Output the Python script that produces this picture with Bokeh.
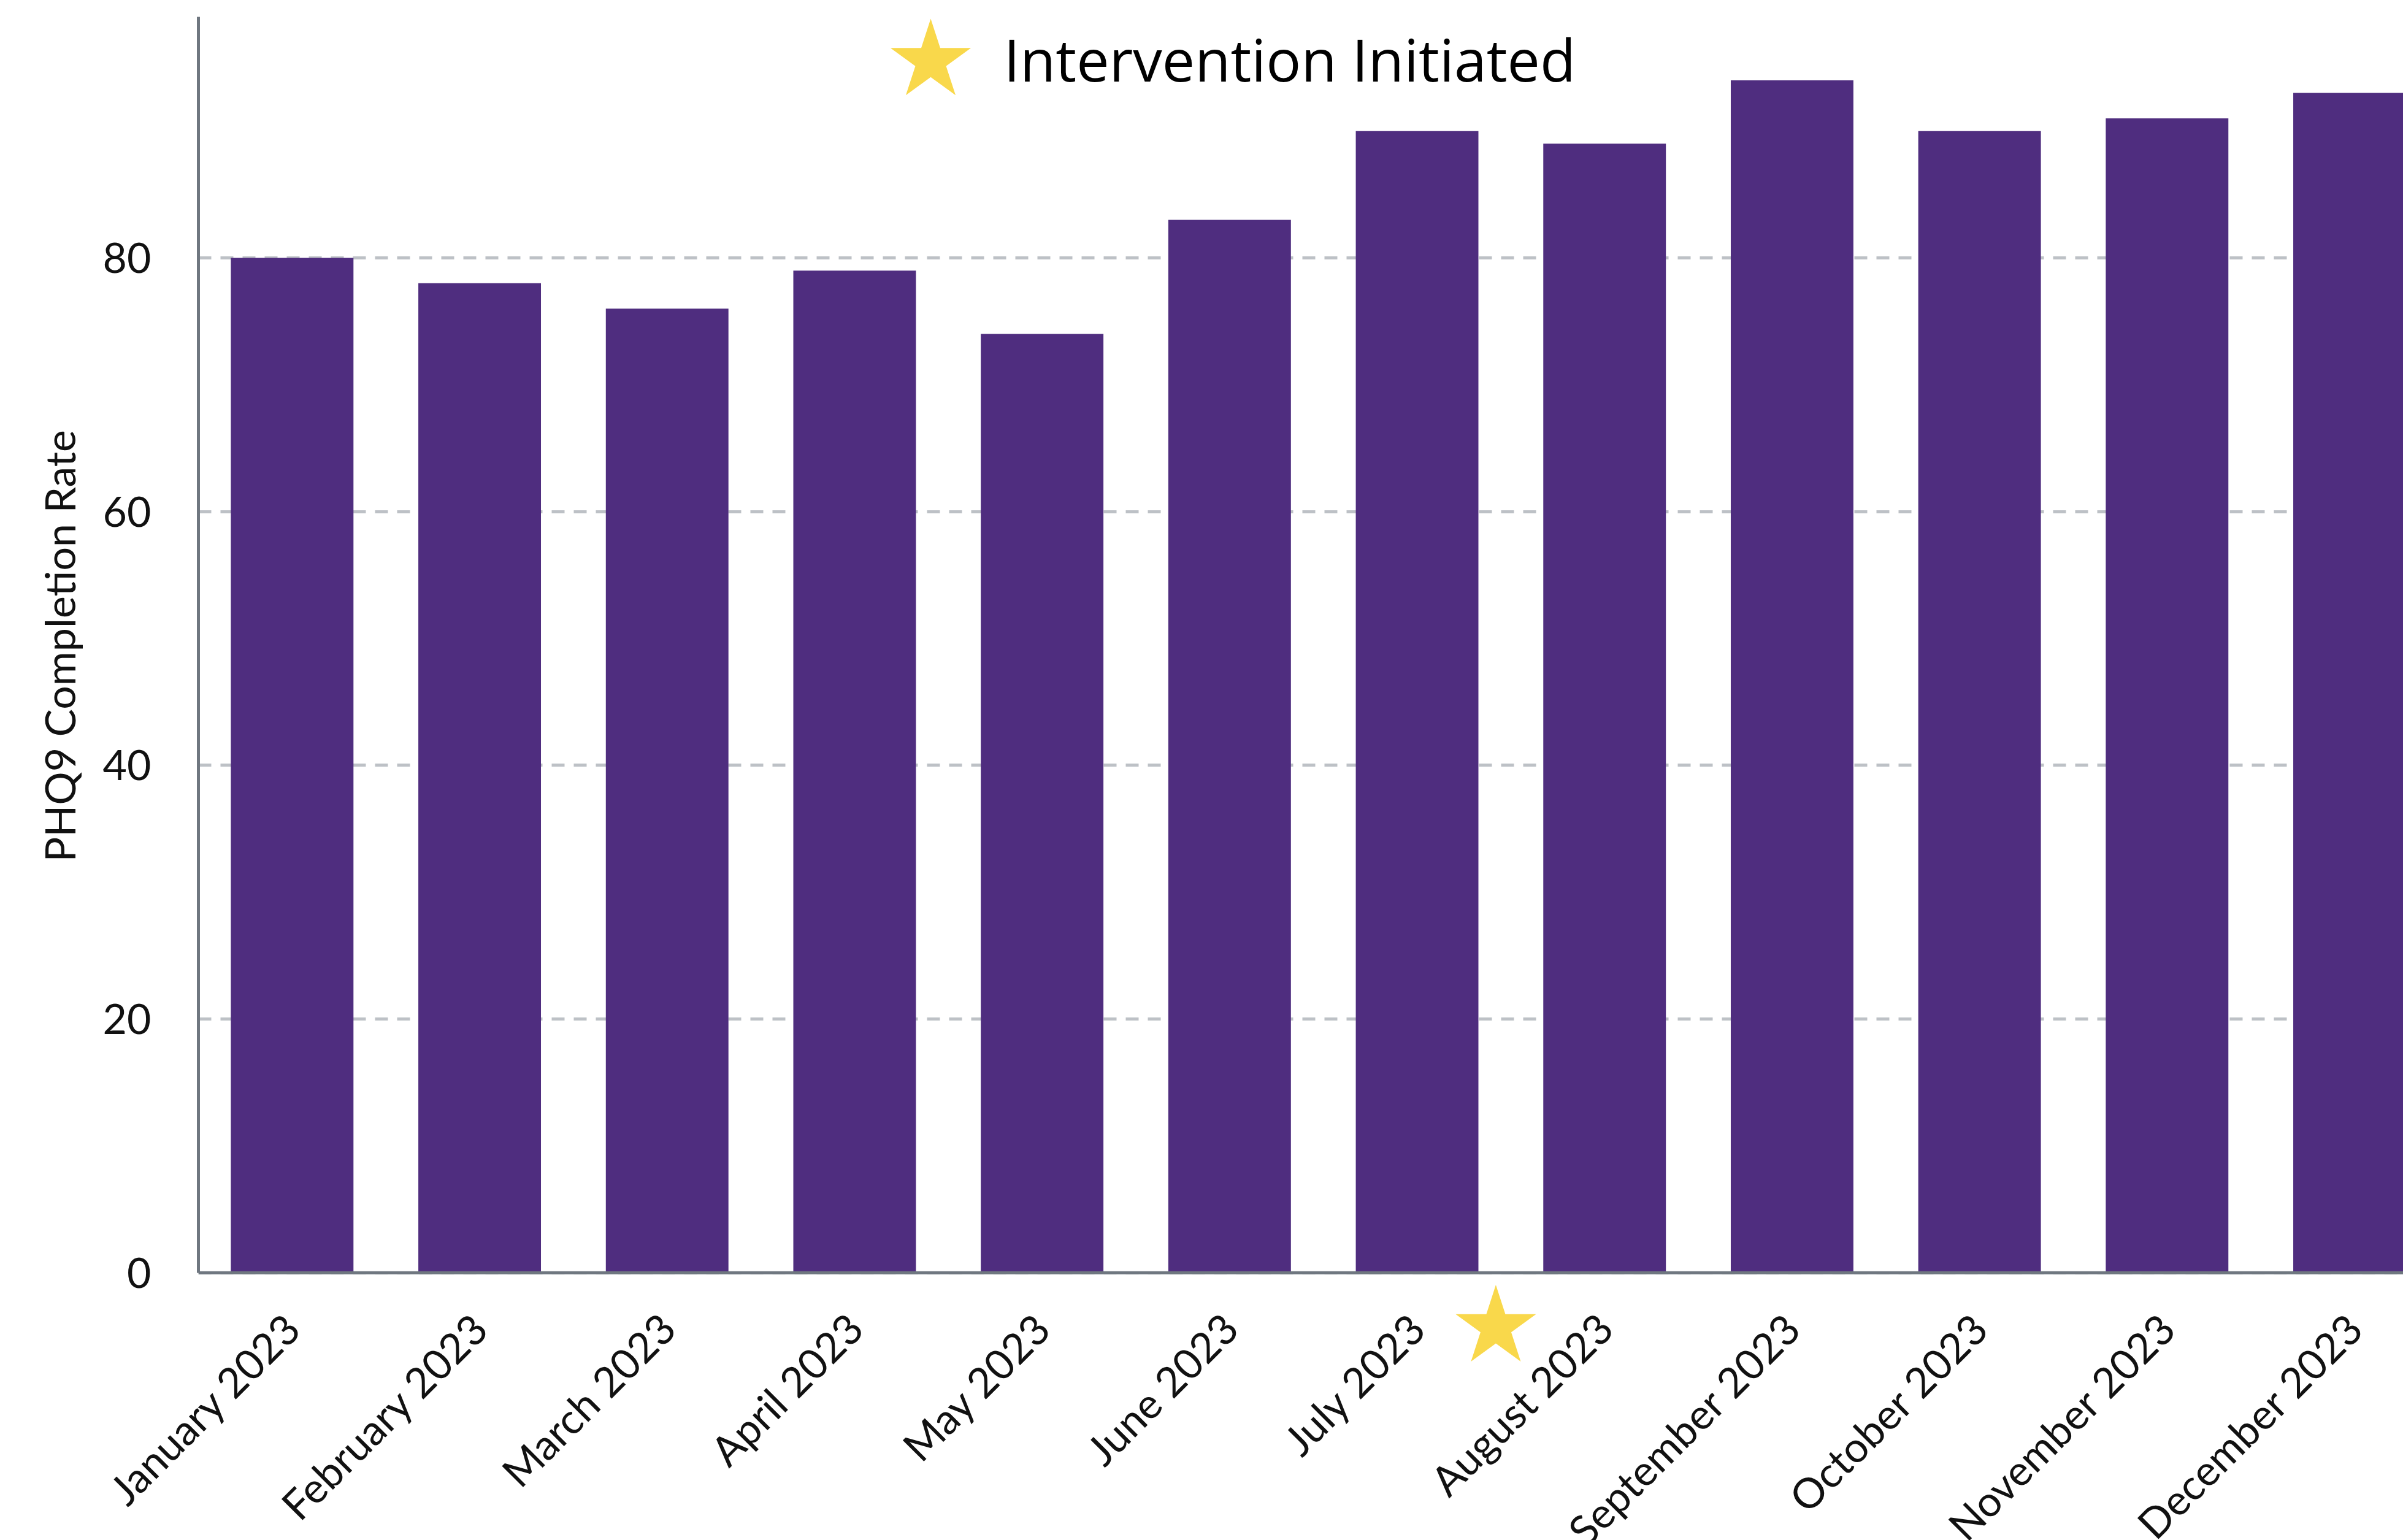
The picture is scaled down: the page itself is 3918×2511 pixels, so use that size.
import math
from bokeh.plotting import figure
from bokeh.models import (ColumnDataSource, Range1d, FixedTicker, Span, Label, Title)
from bokeh.embed import file_html
from bokeh.resources import INLINE

# ---- data ----
months = ["January 2023", "February 2023", "March 2023", "April 2023", "May 2023",
          "June 2023", "July 2023", "August 2023", "September 2023", "October 2023",
          "November 2023", "December 2023"]
completion_rate = [80, 78, 76, 79, 74, 83, 90, 89, 94, 90, 91, 93]
y_ticks = [0, 20, 40, 60, 80]
y_title = "PHQ9 Completion Rate"
intervention_label = "Intervention Initiated"
intervention_x = [6.92]   # between July and August on the month index scale
intervention_y = [-4.3]   # marker drawn just under the axis

BAR = "#4f2d7f"
STAR = "#f9d84b"
AXIS = "#6f7780"
GRID = "#bdc1c6"

x_pos = [i + 0.5 for i in range(len(months))]
Y_MIN, Y_MAX = -7.8, 99
X_END = 11.76

FRAME_L, FRAME_T, FRAME_W, FRAME_H = 323, 27, 3595, 2209


def px_to_x(px):
    return (px - FRAME_L) / FRAME_W * X_END


def py_to_y(py):
    return Y_MIN + (FRAME_T + FRAME_H - py) / FRAME_H * (Y_MAX - Y_MIN)


bars = ColumnDataSource(dict(x=x_pos, top=completion_rate, month=months))
stars = ColumnDataSource(dict(x=intervention_x, y=intervention_y))

p = figure(frame_width=FRAME_W, frame_height=FRAME_H,
           x_range=Range1d(0, X_END), y_range=Range1d(Y_MIN, Y_MAX),
           output_backend="svg", toolbar_location=None,
           min_border_left=FRAME_L, min_border_right=0, min_border_top=FRAME_T,
           min_border_bottom=0)
p.outline_line_color = None
p.background_fill_color = "white"

p.vbar(x="x", top="top", bottom=0, width=0.654, source=bars,
       fill_color=BAR, line_color=None)

p.scatter(x="x", y="y", source=stars, marker="star", size=138,
          fill_color=STAR, line_color=None)

# x axis line at zero
p.add_layout(Span(location=0, dimension="width", line_color=AXIS, line_width=5))

# grid
p.xgrid.visible = False
p.ygrid.ticker = FixedTicker(ticks=y_ticks)
p.ygrid.grid_line_color = GRID
p.ygrid.grid_line_width = 5
p.ygrid.grid_line_dash = "21 15"

# y axis
ya = p.yaxis[0]
ya.ticker = FixedTicker(ticks=y_ticks)
ya.bounds = (0, Y_MAX)
ya.axis_line_color = AXIS
ya.axis_line_width = 5
ya.major_tick_line_color = None
ya.minor_tick_line_color = None
ya.major_tick_out = 0
ya.major_tick_in = 0
ya.major_label_standoff = 77
ya.major_label_text_font = "Lato"
ya.major_label_text_font_size = "68px"
ya.major_label_text_color = "#111111"

# y axis title, placed along the drawn part of the axis (0 .. Y_MAX)
p.add_layout(Title(text=y_title, align="left", vertical_align="bottom",
                   offset=(FRAME_T + FRAME_H) - 1405, standoff=56,
                   text_font="Lato", text_font_size="68px",
                   text_font_style="normal", text_color="#111111"), "left")

# x axis
xa = p.xaxis[0]
xa.ticker = FixedTicker(ticks=x_pos)
xa.major_label_overrides = {xv: m for xv, m in zip(x_pos, months)}
xa.axis_line_color = None
xa.major_tick_line_color = None
xa.minor_tick_line_color = None
xa.major_tick_out = 0
xa.major_tick_in = 0
xa.major_label_orientation = math.pi / 4
xa.major_label_standoff = -84
xa.major_label_text_font = "Lato"
xa.major_label_text_font_size = "68px"
xa.major_label_text_color = "#111111"

# key at the top: star symbol + caption
key = ColumnDataSource(dict(x=[px_to_x(1517)], y=[py_to_y(99)]))
p.scatter(x="x", y="y", source=key, marker="star", size=138,
          fill_color=STAR, line_color=None)
p.add_layout(Label(x=px_to_x(1636), y=py_to_y(95), text=intervention_label,
                   text_align="left", text_baseline="alphabetic",
                   text_font="Open Sans", text_font_size="95px",
                   text_color="#000000"))

open("out.html", "w").write(file_html(p, INLINE))
